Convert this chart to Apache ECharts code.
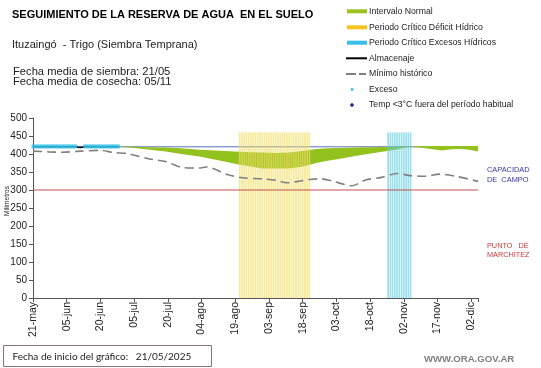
<!DOCTYPE html>
<html><head><meta charset="utf-8">
<script src="https://cdn.jsdelivr.net/npm/echarts@6/dist/echarts.min.js"></script>
<style>html,body{margin:0;padding:0;background:#fff}#c{width:541px;height:368px}</style>
</head><body><div id="c"></div>
<script>
// ---- data (x = days since 21/05/2025) ----
const xTickLabels = ['21-may','05-jun','20-jun','05-jul','20-jul','04-ago','19-ago','03-sep','18-sep','03-oct','18-oct','02-nov','17-nov','02-dic'];
const ccValue = 420;      // Capacidad de campo
const pmpValue = 300;     // Punto de marchitez
const refLineDays = [0, 198];

const bandDays  = [38, 45, 52, 59, 66, 74, 83, 92, 97, 102, 108, 114, 120, 126, 131, 136, 144, 151, 159, 166, 168, 172, 177, 182, 186, 190, 194, 198];
const bandUpper = [421,420,419,418,416,412,409,406,405,404, 403, 404, 408, 414, 416, 417, 418, 419, 420, 421, 421, 422, 422, 422, 422, 422, 422, 422];
const bandLower = [420,417,412,407,400,393,382,370,365,360, 360, 360, 365, 375, 381, 386, 395, 402, 410, 418, 420, 418, 414, 410, 413, 414, 412, 407];

const minHistDays   = [0, 7, 13, 21, 30, 36, 42, 52, 59, 67, 74, 77, 86, 93, 102, 108, 113, 119, 124, 128, 133, 142, 148, 155, 162, 168, 174, 181, 189, 198];
const minHistValues = [408,406,405,408,410,404,401,386,379,362,361,364,344,334,331, 327, 320, 325, 330, 331, 325, 312, 328, 335, 346, 340, 338, 344, 337, 324];

const storageDays   = [0, 10, 19, 20, 21, 22, 23, 30, 38];
const storageValues = [420,420,420,419,418,419,420,420,420];

const excessDays = [0,1,2,3,4,5,6,7,8,9,10,11,12,13,14,15,16,17,18,19,23,24,25,26,27,28,29,30,31,32,33,34,35,36,37,38];
const excessValue = 421;

const deficitPeriod = [92, 123];   // Periodo crítico déficit hídrico (días)
const excessPeriod  = [158, 168];  // Periodo crítico excesos hídricos (días)
const periodBarTop = 460;

function periodBars(p){ const out=[]; for(let d=p[0]; d<=p[1]; d++) out.push([d, periodBarTop]); return out; }

const FONT = '"Liberation Sans", Arial, sans-serif';
const chart = echarts.init(document.getElementById('c'), null, {renderer:'canvas'});

function legendItems(){
  const g = [];
  const tx = 369, ys = [11.3, 27.3, 42.7, 58.3, 74, 89.5, 105];
  const labels = ['Intervalo Normal','Periodo Crítico Déficit Hídrico','Periodo Crítico Excesos Hídricos','Almacenaje','Mínimo histórico','Exceso','Temp <3°C fuera del período habitual'];
  g.push({type:'rect', shape:{x:347,y:ys[0]-2,width:20,height:4}, style:{fill:'#9cc21d'}});
  g.push({type:'rect', shape:{x:347,y:ys[1]-2,width:20,height:4}, style:{fill:'#f7c51c'}});
  g.push({type:'rect', shape:{x:347,y:ys[2]-2,width:20,height:4}, style:{fill:'#38bfea'}});
  g.push({type:'line', shape:{x1:346,y1:ys[3],x2:367,y2:ys[3]}, style:{stroke:'#000',lineWidth:2}});
  g.push({type:'line', shape:{x1:346,y1:ys[4],x2:356,y2:ys[4]}, style:{stroke:'#808080',lineWidth:2}});
  g.push({type:'line', shape:{x1:359,y1:ys[4],x2:366,y2:ys[4]}, style:{stroke:'#808080',lineWidth:2}});
  g.push({type:'rect', shape:{x:350.8,y:ys[5]-1.3,width:2.6,height:2.6}, style:{fill:'#35c4ec'}});
  g.push({type:'polygon', shape:{points:[[352,ys[6]-2.2],[354.2,ys[6]],[352,ys[6]+2.2],[349.8,ys[6]]]}, style:{fill:'#1f2a9a'}});
  labels.forEach((t,i)=>g.push({type:'text', x:tx, y:ys[i], style:{text:t, font:'8.7px '+FONT, fill:'#222', align:'left', verticalAlign:'middle'}}));
  return g;
}

const option = {
  animation:false,
  backgroundColor:'#fff',
  grid:{left:33, right:63, top:118, bottom:70, containLabel:false, outerBoundsMode:'none'},
  xAxis:{
    type:'value', min:0, max:198, interval:15,
    axisLine:{show:true, onZero:false, lineStyle:{color:'#555', width:1}},
    axisTick:{show:true, length:4, lineStyle:{color:'#555'}},
    splitLine:{show:false},
    axisLabel:{rotate:90, fontSize:10.5, fontFamily:FONT, color:'#222', margin:4,
      formatter:v => (v % 15 === 0 && xTickLabels[v/15]) ? xTickLabels[v/15] : ''}
  },
  yAxis:{
    type:'value', min:0, max:500, interval:50,
    axisLine:{show:true, lineStyle:{color:'#555', width:1}},
    axisTick:{show:true, length:4, lineStyle:{color:'#555'}},
    splitLine:{show:false},
    axisLabel:{fontSize:10, fontFamily:FONT, color:'#222', margin:6}
  },
  series:[
    {name:'CC', type:'line', data:refLineDays.map(d=>[d,ccValue]), symbol:'none', lineStyle:{color:'#5572b8', width:1}, z:1, silent:true},
    {name:'Intervalo Normal', type:'custom', coordinateSystem:'cartesian2d', z:2, silent:true,
      data: bandDays.map((d,i)=>[d, bandLower[i], bandUpper[i]]),
      encode:{x:0, y:[1,2]},
      renderItem:(params, api)=>{
        if (params.dataIndex !== 0) return null;
        const pts = [];
        for (let i=0;i<bandDays.length;i++) pts.push(api.coord([bandDays[i], bandUpper[i]]));
        for (let i=bandDays.length-1;i>=0;i--) pts.push(api.coord([bandDays[i], bandLower[i]]));
        return {type:'polygon', shape:{points:pts}, style:{fill:'#93c11e'}};
      }},
    {name:'Periodo Crítico Déficit Hídrico', type:'bar', data:periodBars(deficitPeriod), barWidth:1.7, barGap:'-100%',
      itemStyle:{color:'rgba(242,222,100,0.66)'}, z:3, silent:true},
    {name:'Periodo Crítico Excesos Hídricos', type:'bar', data:periodBars(excessPeriod), barWidth:1.7, barGap:'-100%',
      itemStyle:{color:'rgba(95,205,225,0.62)'}, z:3, silent:true},
    {name:'PMP', type:'line', data:refLineDays.map(d=>[d,pmpValue]), symbol:'none', lineStyle:{color:'#c0504d', width:1}, z:4, silent:true},
    {name:'Mínimo histórico', type:'line', data:minHistDays.map((d,i)=>[d,minHistValues[i]]), symbol:'none', smooth:0.3,
      lineStyle:{color:'#808080', width:1.6, type:[9,5]}, z:5, silent:true},
    {name:'Almacenaje', type:'line', data:storageDays.map((d,i)=>[d,storageValues[i]]), symbol:'none', lineStyle:{color:'#000', width:1.5}, z:6, silent:true},
    {name:'Exceso', type:'scatter', data:excessDays.map(d=>[d,excessValue]), symbol:'rect', symbolSize:[3,4], itemStyle:{color:'#35c4ec'}, z:7, silent:true},
    {name:'Temp <3°C fuera del período habitual', type:'scatter', data:[], symbol:'diamond', itemStyle:{color:'#1f2a9a'}, z:7}
  ],
  graphic:[
    {type:'text', x:12, y:15, style:{text:'SEGUIMIENTO DE LA RESERVA DE AGUA  EN EL SUELO', font:'bold 11px '+FONT, fill:'#000', verticalAlign:'middle'}},
    {type:'text', x:12, y:44.5, style:{text:'Ituzaingó  - Trigo (Siembra Temprana)', font:'11px '+FONT, fill:'#222', verticalAlign:'middle'}},
    {type:'text', x:13, y:72, style:{text:'Fecha media de siembra: 21/05', font:'11.2px '+FONT, fill:'#222', verticalAlign:'middle'}},
    {type:'text', x:13, y:81.7, style:{text:'Fecha media de cosecha: 05/11', font:'11.2px '+FONT, fill:'#222', verticalAlign:'middle'}},
    {type:'text', x:7, y:201, rotation:Math.PI/2, style:{text:'Milímetros', font:'6.5px '+FONT, fill:'#222', align:'center', verticalAlign:'middle'}},
    {type:'text', x:487, y:170, style:{text:'CAPACIDAD', font:'7.4px '+FONT, fill:'#3535a8', verticalAlign:'middle'}},
    {type:'text', x:487, y:180, style:{text:'DE  CAMPO', font:'7.4px '+FONT, fill:'#3535a8', verticalAlign:'middle'}},
    {type:'text', x:487, y:246, style:{text:'PUNTO   DE', font:'7.3px '+FONT, fill:'#c83a3a', verticalAlign:'middle'}},
    {type:'text', x:487, y:255, style:{text:'MARCHITEZ', font:'7.3px '+FONT, fill:'#c83a3a', verticalAlign:'middle'}},
    {type:'rect', shape:{x:3.5,y:345.5,width:208,height:21}, style:{fill:'#fff', stroke:'#8a7474', lineWidth:1}},
    {type:'text', x:12.5, y:356.5, style:{text:'Fecha de inicio del gráfico:   21/05/2025', font:'10px Lato, '+FONT, fill:'#222', verticalAlign:'middle'}},
    {type:'text', x:424, y:359, style:{text:'WWW.ORA.GOV.AR', font:'bold 9.6px '+FONT, fill:'#7f7f7f', verticalAlign:'middle'}},
    ...legendItems()
  ]
};
chart.setOption(option);
</script>
</body></html>
